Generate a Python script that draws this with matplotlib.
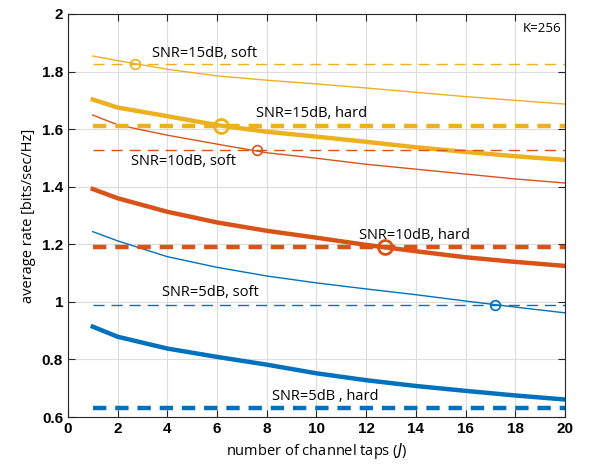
import matplotlib
matplotlib.use('Agg')
import matplotlib.pyplot as plt

J = [1, 2, 4, 6, 8, 10, 12, 14, 16, 18, 20]

# rates
soft15 = [1.854, 1.838, 1.808, 1.785, 1.770, 1.757, 1.743, 1.728, 1.713, 1.700, 1.687]
hard15 = [1.703, 1.675, 1.645, 1.614, 1.591, 1.574, 1.556, 1.537, 1.521, 1.506, 1.493]
soft10 = [1.649, 1.615, 1.579, 1.548, 1.518, 1.499, 1.478, 1.461, 1.444, 1.427, 1.413]
hard10 = [1.392, 1.360, 1.313, 1.276, 1.247, 1.223, 1.198, 1.176, 1.155, 1.139, 1.125]
soft5 = [1.244, 1.212, 1.157, 1.120, 1.090, 1.066, 1.045, 1.025, 1.003, 0.982, 0.962]
hard5 = [0.914, 0.879, 0.838, 0.809, 0.782, 0.752, 0.728, 0.708, 0.691, 0.675, 0.661]

ref_soft15, ref_hard15 = 1.825, 1.611
ref_soft10, ref_hard10 = 1.526, 1.189
ref_soft5, ref_hard5 = 0.989, 0.632

# crossing points (J, rate)
cross_soft15 = (2.7, 1.825)
cross_hard15 = (6.15, 1.611)
cross_soft10 = (7.6, 1.526)
cross_hard10 = (12.75, 1.189)
cross_soft5 = (17.2, 0.989)

blue = '#0072BD'
orange = '#D95319'
yellow = '#EDB120'

fig = plt.figure(figsize=(5.96, 4.66), dpi=100)
ax = fig.add_axes([0.114, 0.105, 0.834, 0.865])

ax.plot(J, soft15, color=yellow, lw=1.0)
ax.plot(J, hard15, color=yellow, lw=3.2)
ax.plot(J, soft10, color=orange, lw=1.0)
ax.plot(J, hard10, color=orange, lw=3.2)
ax.plot(J, soft5, color=blue, lw=1.0)
ax.plot(J, hard5, color=blue, lw=3.2)

ax.plot([1, 20], [ref_soft15] * 2, color=yellow, lw=1.0, ls=(0, (8, 5)))
ax.plot([1, 20], [ref_hard15] * 2, color=yellow, lw=3.2, ls=(0, (3, 2)))
ax.plot([1, 20], [ref_soft10] * 2, color=orange, lw=1.0, ls=(0, (8, 5)))
ax.plot([1, 20], [ref_hard10] * 2, color=orange, lw=3.2, ls=(0, (3, 2)))
ax.plot([1, 20], [ref_soft5] * 2, color=blue, lw=1.0, ls=(0, (8, 5)))
ax.plot([1, 20], [ref_hard5] * 2, color=blue, lw=3.2, ls=(0, (3, 2)))

for (x, y), c, ms, mew in [(cross_soft15, yellow, 7, 1.2), (cross_hard15, yellow, 10, 2.0),
                           (cross_soft10, orange, 7, 1.2), (cross_hard10, orange, 10, 2.0),
                           (cross_soft5, blue, 7, 1.2)]:
    ax.plot(x, y, 'o', mfc='none', mec=c, ms=ms, mew=mew)

tf = dict(fontsize=10.5, family='Open Sans', va='center')
ax.text(3.4, 1.864, 'SNR=15dB, soft', **tf)
ax.text(7.55, 1.656, 'SNR=15dB, hard', **tf)
ax.text(2.55, 1.486, 'SNR=10dB, soft', **tf)
ax.text(11.7, 1.232, 'SNR=10dB, hard', **tf)
ax.text(3.8, 1.031, 'SNR=5dB, soft', **tf)
ax.text(8.2, 0.673, 'SNR=5dB , hard', **tf)
ax.text(19.85, 1.951, 'K=256', ha='right', va='center', fontsize=9.5, family='Open Sans')

ax.set_xlim(0, 20)
ax.set_ylim(0.6, 2)
ax.set_xticks(range(0, 21, 2))
ax.set_yticks([0.6, 0.8, 1.0, 1.2, 1.4, 1.6, 1.8, 2.0])
ax.set_yticklabels(['0.6', '0.8', '1', '1.2', '1.4', '1.6', '1.8', '2'])
for lab in ax.get_xticklabels() + ax.get_yticklabels():
    lab.set_family('Liberation Sans')
    lab.set_fontweight('bold')
    lab.set_fontsize(11)
ax.tick_params(direction='in', top=True, right=True, length=5, width=0.8, color='#262626')
ax.grid(True, color='#dcdcdc', lw=0.8)
ax.set_axisbelow(True)
for s in ax.spines.values():
    s.set_color('#262626')
    s.set_linewidth(0.8)

ax.set_xlabel('number of channel taps ($\\it{J}$)', family='Open Sans', fontsize=10.5)
ax.set_ylabel('average rate [bits/sec/Hz]', family='Open Sans', fontsize=10.5)

fig.savefig('out.png', dpi=100)
